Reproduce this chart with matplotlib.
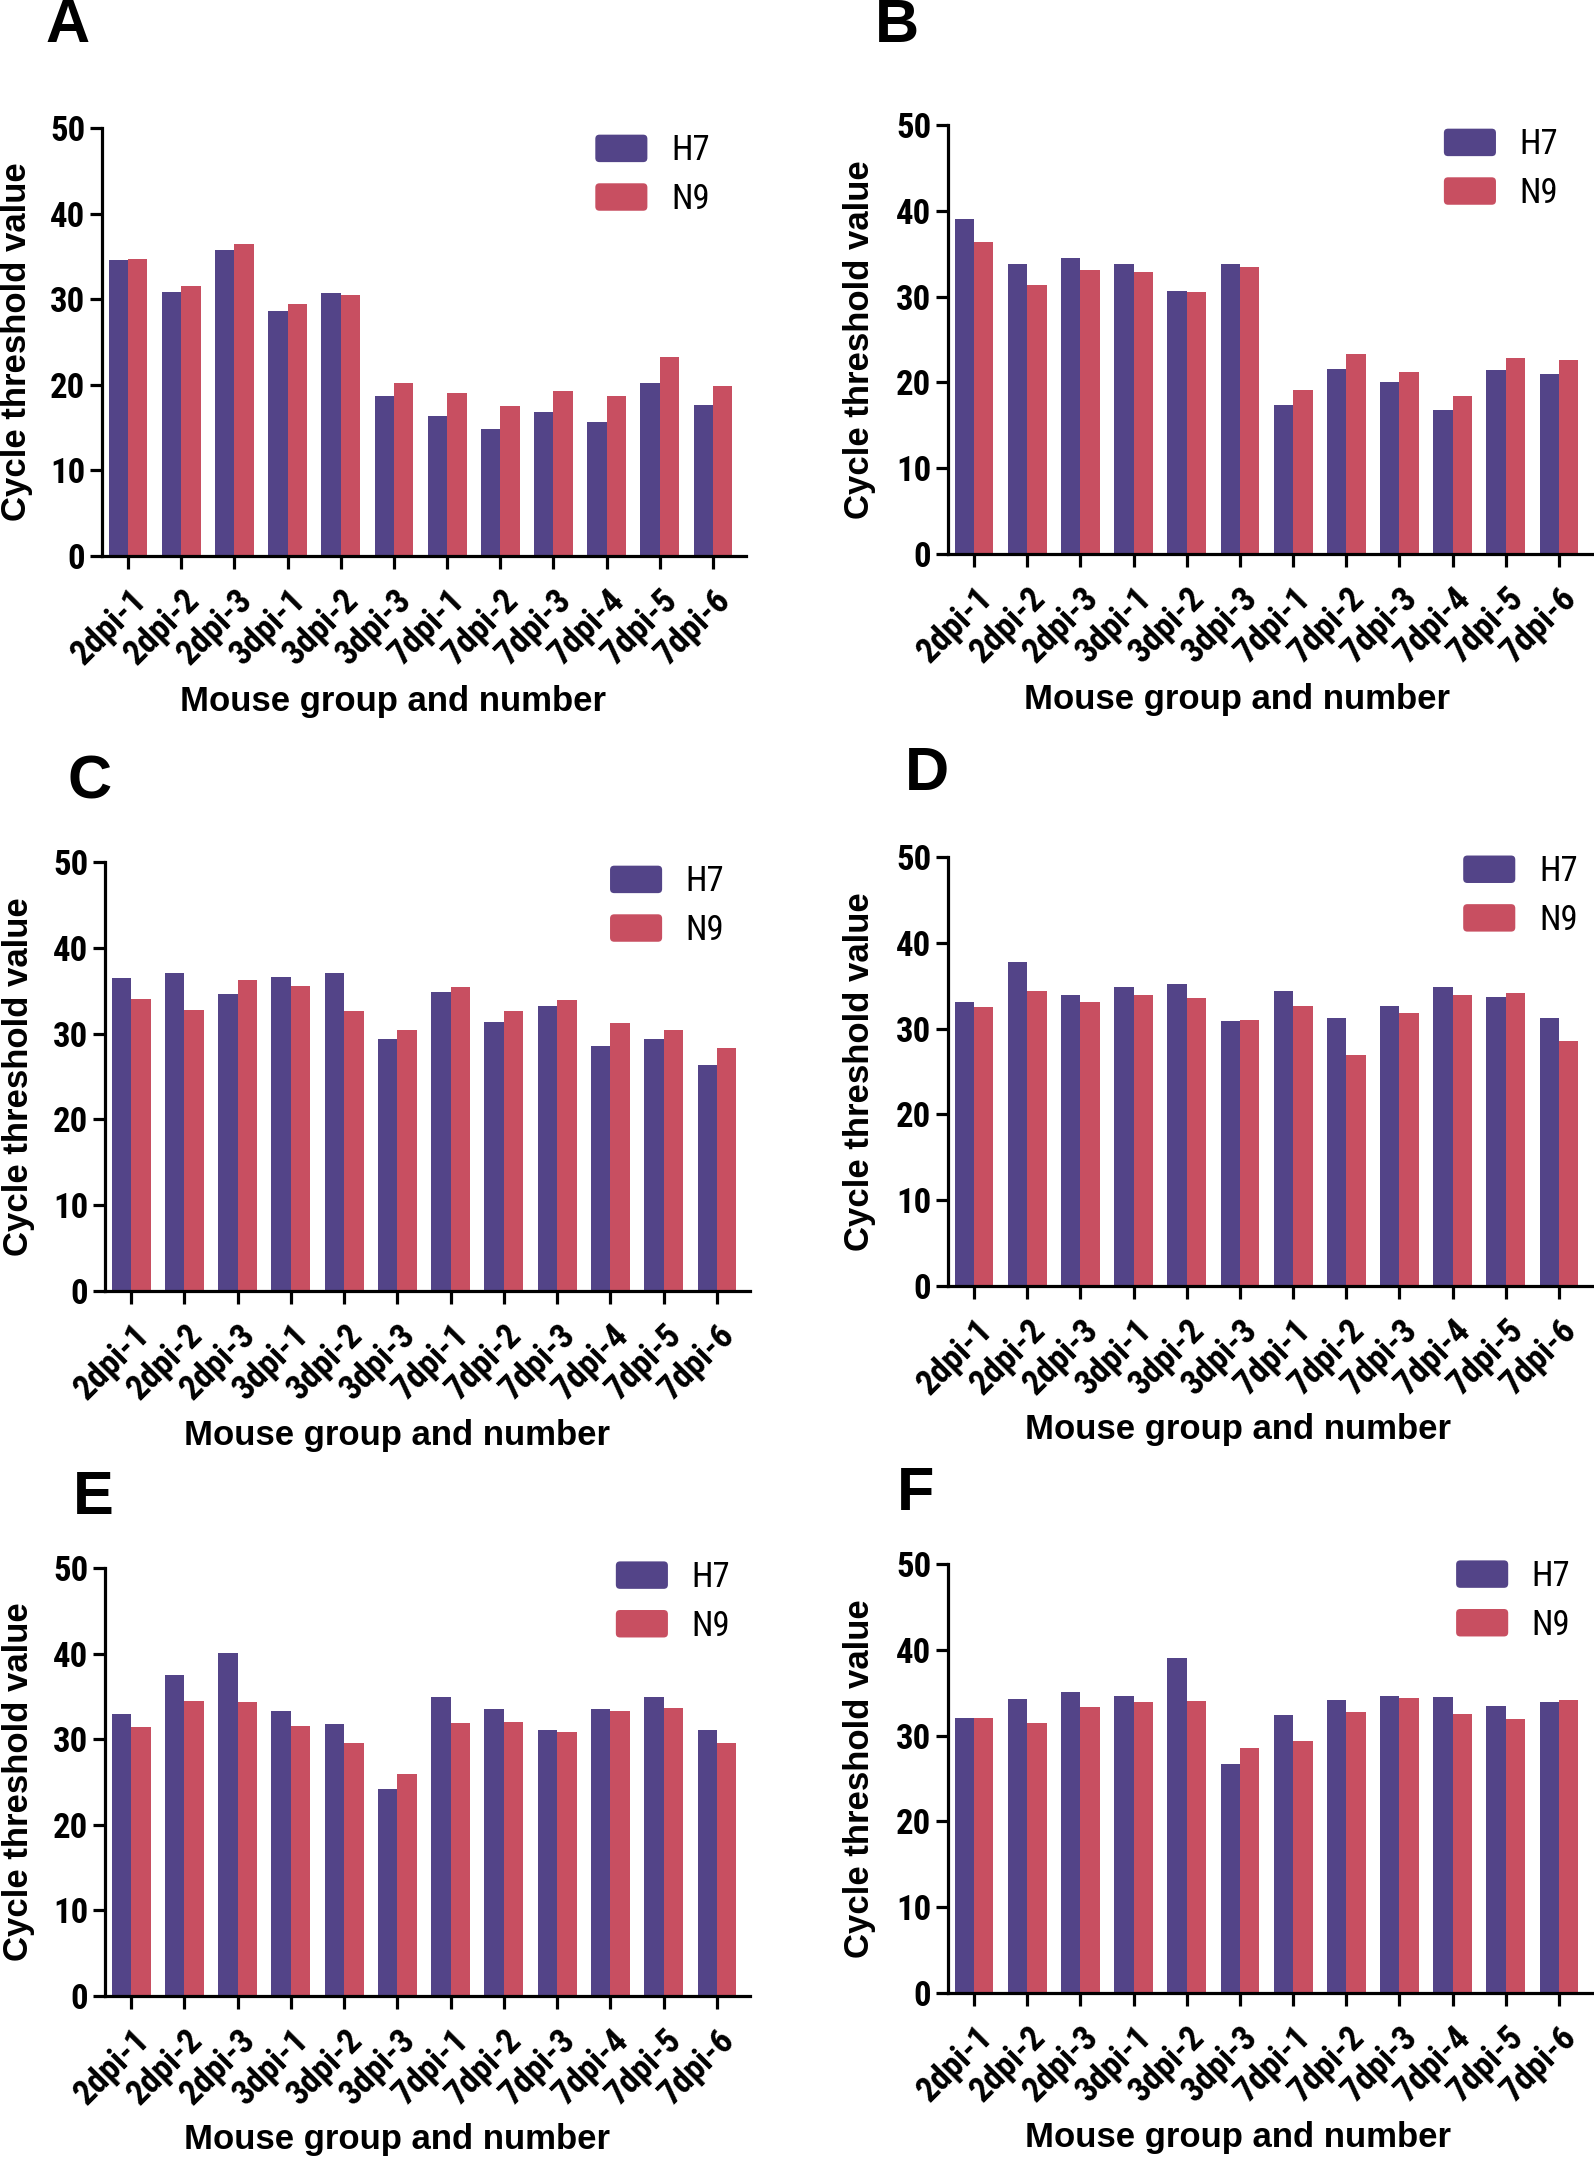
import matplotlib
matplotlib.use('Agg')
import matplotlib.pyplot as plt
import numpy as np
from matplotlib.patches import FancyBboxPatch, Patch
from matplotlib.legend_handler import HandlerPatch
from matplotlib.transforms import ScaledTranslation
from matplotlib import font_manager

plt.rcParams['font.family'] = ['Liberation Sans', 'DejaVu Sans']
_names = {f.name for f in font_manager.fontManager.ttflist}
_cands = ['Liberation Sans Narrow', 'Arial Narrow', 'Roboto Condensed',
          'Open Sans Condensed']
_found = [c for c in _cands if c in _names]
if _found:
    NARROW = [_found[0], 'Liberation Sans']
    XT_SIZE, YT_SIZE, LEG_SIZE = 25, 25, 25
else:
    NARROW = ['Liberation Sans']
    XT_SIZE, YT_SIZE, LEG_SIZE = 21, 21.5, 22.5

# ---------------- data ----------------
categories = ['2dpi-1', '2dpi-2', '2dpi-3', '3dpi-1', '3dpi-2', '3dpi-3',
              '7dpi-1', '7dpi-2', '7dpi-3', '7dpi-4', '7dpi-5', '7dpi-6']
series_names = ['H7', 'N9']
panel_letters = ['A', 'B', 'C', 'D', 'E', 'F']
y_ticks = [0, 10, 20, 30, 40, 50]
x_title = 'Mouse group and number'
y_title = 'Cycle threshold value'

h7_A = [34.6, 30.8, 35.7, 28.6, 30.7, 18.7, 16.4, 14.8, 16.8, 15.7, 20.2, 17.6]
n9_A = [34.7, 31.6, 36.5, 29.4, 30.5, 20.2, 19.0, 17.5, 19.3, 18.7, 23.2, 19.9]
h7_B = [39.0, 33.8, 34.5, 33.8, 30.7, 33.8, 17.4, 21.6, 20.0, 16.8, 21.5, 21.0]
n9_B = [36.4, 31.3, 33.1, 32.9, 30.5, 33.4, 19.1, 23.3, 21.2, 18.4, 22.9, 22.6]
h7_C = [36.5, 37.1, 34.6, 36.6, 37.1, 29.4, 34.9, 31.3, 33.2, 28.5, 29.4, 26.3]
n9_C = [34.0, 32.8, 36.2, 35.6, 32.6, 30.4, 35.4, 32.6, 33.9, 31.2, 30.4, 28.3]
h7_D = [33.1, 37.8, 33.9, 34.9, 35.2, 30.9, 34.4, 31.2, 32.6, 34.9, 33.7, 31.2]
n9_D = [32.5, 34.4, 33.1, 33.9, 33.6, 31.0, 32.6, 26.9, 31.8, 33.9, 34.1, 28.6]
h7_E = [33.0, 37.5, 40.1, 33.3, 31.8, 24.2, 34.9, 33.5, 31.1, 33.5, 34.9, 31.1]
n9_E = [31.4, 34.5, 34.3, 31.5, 29.6, 25.9, 31.9, 32.0, 30.8, 33.3, 33.7, 29.6]
h7_F = [32.0, 34.3, 35.1, 34.6, 39.0, 26.7, 32.4, 34.2, 34.6, 34.5, 33.4, 33.9]
n9_F = [32.0, 31.5, 33.3, 33.9, 34.0, 28.5, 29.4, 32.8, 34.4, 32.5, 31.9, 34.2]

# ---------------- style / layout ----------------
C_H7 = '#534488'
C_N9 = '#C84F61'
W, H = 1594, 2160
fig = plt.figure(figsize=(W / 100, H / 100), dpi=100)


def add_ax(l, r, t, b):
    return fig.add_axes([l / W, 1 - b / H, (r - l) / W, (b - t) / H])


class RoundHandler(HandlerPatch):
    def create_artists(self, legend, orig_handle, xdescent, ydescent,
                       width, height, fontsize, trans):
        p = FancyBboxPatch((-xdescent, -ydescent), width, height,
                           boxstyle='round,pad=0,rounding_size=3',
                           facecolor=orig_handle.get_facecolor(),
                           edgecolor='none', transform=trans)
        return [p]


layout = {
    # axes box (l, r, t, b) px, legend anchor, letter pos, ylabel x, xlabel pos
    'A': ((102, 746, 128, 556), (0.766, 0.985), (68, 27), 17, (393, 701)),
    'B': ((948, 1592, 125, 554), (0.770, 0.992), (897, 27), 860, (1237, 699)),
    'C': ((105, 750, 862, 1291), (0.783, 0.992), (90, 783), 19, (397, 1436)),
    'D': ((948, 1592, 857, 1286), (0.800, 1.004), (927, 774), 860, (1238, 1430)),
    'E': ((105, 750, 1568, 1996), (0.792, 1.016), (93, 1498), 19, (397, 2140)),
    'F': ((948, 1592, 1564, 1993), (0.789, 1.009), (916, 1495), 860, (1238, 2137)),
}
data = {'A': (h7_A, n9_A), 'B': (h7_B, n9_B), 'C': (h7_C, n9_C),
        'D': (h7_D, n9_D), 'E': (h7_E, n9_E), 'F': (h7_F, n9_F)}

bw = 0.365
x = np.arange(len(categories))
for letter in panel_letters:
    box, leg_anchor, let_pos, ylab_x, xlab_pos = layout[letter]
    h7, n9 = data[letter]
    ax = add_ax(*box)
    ax.bar(x - bw / 2, h7, width=bw, color=C_H7, linewidth=0)
    ax.bar(x + bw / 2, n9, width=bw, color=C_N9, linewidth=0)
    ax.set_xlim(-0.49, 11.62)
    ax.set_ylim(0, 50)
    ax.set_yticks(y_ticks)
    ax.set_yticklabels([str(v) for v in y_ticks], fontsize=YT_SIZE,
                       fontweight='bold', family=NARROW)
    ax.set_xticks(x)
    ax.set_xticklabels(categories, fontsize=XT_SIZE, fontweight='bold',
                       family=NARROW, rotation=45, ha='right', va='center',
                       rotation_mode='anchor')
    for sp in ['top', 'right']:
        ax.spines[sp].set_visible(False)
    for sp in ['left', 'bottom']:
        ax.spines[sp].set_linewidth(2.3)
    ax.tick_params(axis='both', width=2.3, length=9, direction='out')
    ax.tick_params(axis='x', pad=19)
    ax.tick_params(axis='y', pad=3)
    off = ScaledTranslation(13 / 100, 0, fig.dpi_scale_trans)
    for lab in ax.get_xticklabels():
        lab.set_transform(lab.get_transform() + off)

    handles = [Patch(facecolor=C_H7, label=series_names[0]),
               Patch(facecolor=C_N9, label=series_names[1])]
    ax.legend(handles=handles, loc='upper left', bbox_to_anchor=leg_anchor,
              frameon=False, prop={'size': LEG_SIZE, 'family': NARROW},
              borderpad=0, borderaxespad=0,
              handlelength=1.5, handleheight=0.84, handletextpad=0.68,
              labelspacing=0.45, handler_map={Patch: RoundHandler()})

    # axis titles and panel letters
    yc = (box[2] + box[3]) / 2
    fig.text(ylab_x / W, 1 - yc / H, y_title, rotation=90, fontsize=25,
             fontweight='bold', ha='center', va='center')
    fig.text(xlab_pos[0] / W, 1 - xlab_pos[1] / H, x_title, fontsize=25,
             fontweight='bold', ha='center', va='center')
    fig.text(let_pos[0] / W, 1 - let_pos[1] / H, letter, fontsize=44,
             fontweight='bold', ha='center', va='center')

fig.savefig('out.png', dpi=100, facecolor='white')
